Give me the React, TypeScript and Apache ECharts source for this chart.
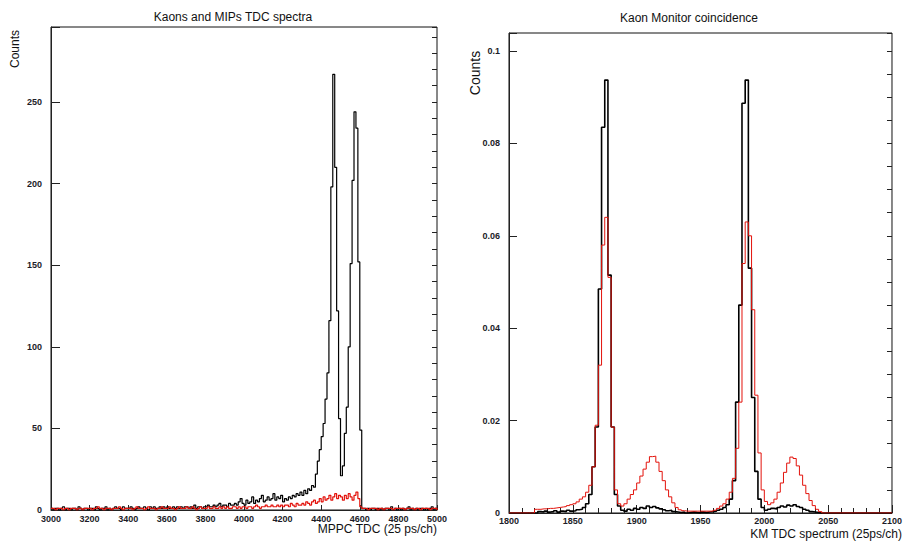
import React, { useEffect, useRef } from "react";
import * as echarts from "echarts";

// ---------- Left panel: Kaons and MIPs TDC spectra ----------
const leftBinStart = 3000;
const leftBinWidth = 10;
const leftXTicks = { min: 3000, max: 5000, interval: 200 };
const leftYMax = 296;
// black histogram (kaons), bins of 10 ch from 3000 to 4990
const leftBlack = [
  1, 0, 1, 1, 0, 1, 2, 0, 1, 1,
  0, 1, 1, 0, 2, 1, 0, 1, 1, 0,
  1, 1, 0, 2, 1, 0, 1, 1, 2, 0,
  1, 0, 1, 2, 1, 1, 0, 2, 1, 1,
  1, 2, 1, 0, 1, 2, 1, 1, 2, 1,
  0, 2, 1, 2, 1, 1, 2, 1, 2, 1,
  2, 1, 1, 2, 1, 2, 1, 2, 1, 2,
  2, 1, 2, 1, 3, 1, 2, 2, 1, 2,
  2, 3, 2, 2, 3, 2, 3, 4, 2, 3,
  3, 2, 4, 3, 3, 4, 3, 5, 7, 4,
  3, 6, 4, 5, 8, 4, 6, 5, 7, 9,
  5, 6, 8, 6, 7, 10, 6, 8, 7, 9,
  5, 7, 6, 8, 7, 9, 8, 10, 9, 11,
  9, 12, 10, 13, 12, 15, 14, 22, 30, 37,
  45, 53, 68, 84, 116, 198, 267, 210, 122, 56,
  21, 27, 47, 63, 100, 151, 202, 244, 234, 152,
  49, 1, 1, 0, 1, 0, 1, 1, 0, 1,
  0, 1, 0, 1, 1, 0, 2, 0, 1, 0,
  1, 0, 1, 0, 1, 2, 0, 1, 0, 1,
  0, 1, 1, 0, 1, 0, 1, 2, 0, 1,
];
// red histogram (MIPs)
const leftRed = [
  1, 1, 0, 1, 1, 1, 0, 1, 1, 0,
  1, 1, 1, 0, 1, 1, 0, 1, 1, 1,
  1, 0, 1, 1, 2, 1, 1, 0, 1, 1,
  1, 0, 1, 1, 1, 2, 1, 0, 1, 1,
  1, 1, 0, 1, 2, 1, 1, 1, 0, 1,
  2, 1, 1, 1, 0, 1, 1, 2, 1, 1,
  1, 2, 1, 1, 0, 1, 2, 1, 1, 1,
  2, 1, 1, 2, 1, 0, 1, 2, 1, 1,
  1, 2, 1, 1, 2, 1, 1, 2, 1, 2,
  1, 2, 1, 1, 2, 2, 1, 2, 1, 2,
  2, 1, 2, 2, 1, 2, 3, 2, 1, 2,
  2, 3, 2, 2, 3, 2, 2, 3, 2, 3,
  2, 3, 3, 2, 4, 3, 2, 4, 3, 3,
  4, 3, 5, 4, 3, 5, 6, 4, 5, 7,
  5, 8, 6, 7, 9, 6, 8, 10, 7, 9,
  8, 6, 9, 7, 10, 8, 6, 9, 11, 7,
  2, 1, 1, 1, 0, 1, 1, 1, 1, 0,
  1, 1, 0, 1, 1, 1, 1, 0, 1, 1,
  1, 1, 1, 0, 1, 1, 1, 1, 0, 1,
  1, 0, 1, 1, 1, 1, 0, 1, 1, 1,
];

// ---------- Right panel: Kaon Monitor coincidence ----------
const rightBinStart = 1815;
const rightBinWidth = 2.5;
const rightXTicks = { min: 1800, max: 2100, interval: 50 };
const rightYMax = 0.1039;
const rightRed = [
  0, 0, 0.0008, 0.0008, 0.0009, 0.0009, 0.001, 0.001, 0.0011, 0.0012,
  0.0013, 0.0014, 0.0016, 0.0018, 0.002, 0.0024, 0.003, 0.0035, 0.0045, 0.006,
  0.01, 0.019, 0.032, 0.058, 0.064, 0.051, 0.0186, 0.005, 0.002, 0.0015,
  0.002, 0.003, 0.004, 0.005, 0.0065, 0.008, 0.0095, 0.011, 0.0122, 0.0123,
  0.011, 0.009, 0.007, 0.005, 0.0035, 0.0022, 0.0012, 0.0007, 0.0005, 0.0004,
  0.0004, 0.0004, 0.0004, 0.0004, 0.0004, 0.0004, 0.0004, 0.0004, 0.0006, 0.001,
  0.0015, 0.002, 0.003, 0.0045, 0.0075, 0.014, 0.024, 0.054, 0.063, 0.06,
  0.044, 0.0255, 0.013, 0.005, 0.0025, 0.0018, 0.0022, 0.003, 0.0045, 0.0065,
  0.0088, 0.0108, 0.0121, 0.0118, 0.0102, 0.0082, 0.006, 0.0042, 0.0027, 0.0016,
  0.0008, 0.0003,
];
const rightBlack = [
  0, 0, 0, 0.0003, 0.0002, 0.0004, 0.0002, 0.0003, 0.0005, 0.0002,
  0.0004, 0.0003, 0.0006, 0.0004, 0.0005, 0.0007, 0.0008, 0.0012, 0.002, 0.004,
  0.01, 0.0186, 0.0485, 0.0835, 0.0937, 0.0515, 0.0186, 0.004, 0.0015, 0.0006,
  0.0004, 0.0008, 0.0006, 0.001, 0.0008, 0.0012, 0.001, 0.0015, 0.0012, 0.0014,
  0.0011, 0.0009, 0.0007, 0.0005, 0.0006, 0.0003, 0.0002, 0.0001, 0.0002, 0,
  0.0001, 0.0002, 0.0001, 0, 0.0002, 0.0001, 0.0002, 0.0003, 0.0004, 0.0006,
  0.0008, 0.0012, 0.0018, 0.003, 0.007, 0.024, 0.045, 0.0887, 0.0937, 0.053,
  0.025, 0.009, 0.003, 0.0012, 0.0006, 0.0008, 0.001, 0.0009, 0.0012, 0.0015,
  0.0013, 0.0017, 0.0015, 0.0018, 0.0014, 0.0012, 0.0008, 0.0006, 0.0003, 0.0002,
  0.0001, 0,
];

const titles = ["Kaons and MIPs TDC spectra", "Kaon Monitor coincidence"];
const xTitles = ["MPPC TDC (25 ps/ch)", "KM TDC spectrum (25ps/ch)"];
const yTitle = "Counts";

function histPoints(values: number[], start: number, width: number, lo: number, hi: number) {
  const pts: number[][] = [];
  if (lo < start) pts.push([lo, 0]);
  values.forEach((v, i) => pts.push([start + i * width, v]));
  const end = start + values.length * width;
  pts.push([end, 0]);
  if (hi > end) pts.push([hi, 0]);
  return pts;
}

const FONT = "'Liberation Sans', Arial, Helvetica, sans-serif";
const RED = "#e3120b";

export default function App() {
  const ref = useRef<HTMLDivElement>(null);
  useEffect(() => {
    if (!ref.current) return;
    const chart = echarts.init(ref.current, undefined, { renderer: "svg" });

    const tickLabel = {
      fontSize: 9,
      fontWeight: "bold" as const,
      fontFamily: FONT,
      color: "#1c1c28",
    };
    const axisLine = { show: true, lineStyle: { color: "#222", width: 1 } };
    const plain = (v: number) => String(v);

    const text = (t: string, x: number, y: number, align: string, size: number, rotation = 0) => ({
      type: "text",
      x,
      y,
      rotation,
      style: {
        text: t,
        align,
        verticalAlign: "middle",
        textAlign: align,
        textVerticalAlign: "middle",
        fontSize: size,
        fontFamily: FONT,
        fill: "#111",
      },
    });

    const option: any = {
      animation: false,
      backgroundColor: "#fff",
      grid: [
        { left: 51, top: 27, width: 386, height: 483, show: true, borderColor: "#111", borderWidth: 1, backgroundColor: "transparent" },
        { left: 509, top: 33, width: 387, height: 480, show: true, borderColor: "#111", borderWidth: 1, backgroundColor: "transparent" },
      ],
      xAxis: [
        {
          gridIndex: 0, type: "value", min: leftXTicks.min, max: leftXTicks.max, interval: leftXTicks.interval,
          axisLine, splitLine: { show: false },
          axisTick: { show: true, inside: true, length: 5, lineStyle: { color: "#222" } },
          axisLabel: { ...tickLabel, margin: 4, formatter: plain },
        },
        {
          gridIndex: 1, type: "value", min: rightXTicks.min, max: rightXTicks.max, interval: rightXTicks.interval,
          axisLine, splitLine: { show: false },
          axisTick: { show: true, inside: true, length: 8, lineStyle: { color: "#222" } },
          minorTick: { show: true, splitNumber: 5, length: 5, lineStyle: { color: "#222" } },
          minorSplitLine: { show: false },
          axisLabel: { ...tickLabel, margin: 3, formatter: plain },
        },
      ],
      yAxis: [
        {
          gridIndex: 0, type: "value", min: 0, max: leftYMax, interval: 50,
          axisLine, splitLine: { show: false },
          axisTick: { show: true, inside: true, length: 9, lineStyle: { color: "#222" } },
          axisLabel: { ...tickLabel, margin: 9, formatter: (v: number) => (v % 50 === 0 ? String(v) : "") },
        },
        {
          gridIndex: 0, type: "value", min: 0, max: leftYMax, interval: 10,
          axisLine: { show: false }, splitLine: { show: false },
          axisTick: { show: true, inside: true, length: 5, lineStyle: { color: "#222" } },
          axisLabel: { show: false },
        },
        {
          gridIndex: 1, type: "value", min: 0, max: rightYMax, interval: 0.02,
          axisLine, splitLine: { show: false },
          axisTick: { show: true, inside: true, length: 8, lineStyle: { color: "#222" } },
          axisLabel: {
            ...tickLabel, margin: 9,
            formatter: (v: number) => {
              const k = v / 0.02;
              return Math.abs(k - Math.round(k)) < 1e-6 ? String(Number(v.toFixed(2))) : "";
            },
          },
        },
        {
          gridIndex: 1, type: "value", min: 0, max: rightYMax, interval: 0.005,
          axisLine: { show: false }, splitLine: { show: false },
          axisTick: { show: true, inside: true, length: 5, lineStyle: { color: "#222" } },
          axisLabel: { show: false },
        },
      ],
      series: [
        {
          type: "line", xAxisIndex: 0, yAxisIndex: 0, step: "end", symbol: "none",
          lineStyle: { color: "#000", width: 1.2 },
          data: histPoints(leftBlack, leftBinStart, leftBinWidth, leftXTicks.min, leftXTicks.max),
        },
        {
          type: "line", xAxisIndex: 0, yAxisIndex: 0, step: "end", symbol: "none",
          lineStyle: { color: RED, width: 1.2 },
          data: histPoints(leftRed, leftBinStart, leftBinWidth, leftXTicks.min, leftXTicks.max),
        },
        {
          type: "line", xAxisIndex: 1, yAxisIndex: 2, step: "end", symbol: "none",
          lineStyle: { color: "#000", width: 1.6 },
          data: histPoints(rightBlack, rightBinStart, rightBinWidth, rightXTicks.min, rightXTicks.max),
        },
        {
          type: "line", xAxisIndex: 1, yAxisIndex: 2, step: "end", symbol: "none",
          lineStyle: { color: RED, width: 1 },
          data: histPoints(rightRed, rightBinStart, rightBinWidth, rightXTicks.min, rightXTicks.max),
        },
      ],
      graphic: [
        text(titles[0], 233, 17, "center", 12),
        text(titles[1], 689, 18, "center", 12),
        text(xTitles[0], 437, 529, "right", 12),
        text(xTitles[1], 902, 534, "right", 12),
        text(yTitle, 15, 49, "center", 12, Math.PI / 2),
        text(yTitle, 475, 73, "center", 14, Math.PI / 2),
      ],
    };
    chart.setOption(option);
    return () => chart.dispose();
  }, []);

  return (
    <div
      ref={ref}
      style={{ position: "fixed", left: 0, top: 0, width: 905, height: 551, background: "#fff" }}
    />
  );
}
